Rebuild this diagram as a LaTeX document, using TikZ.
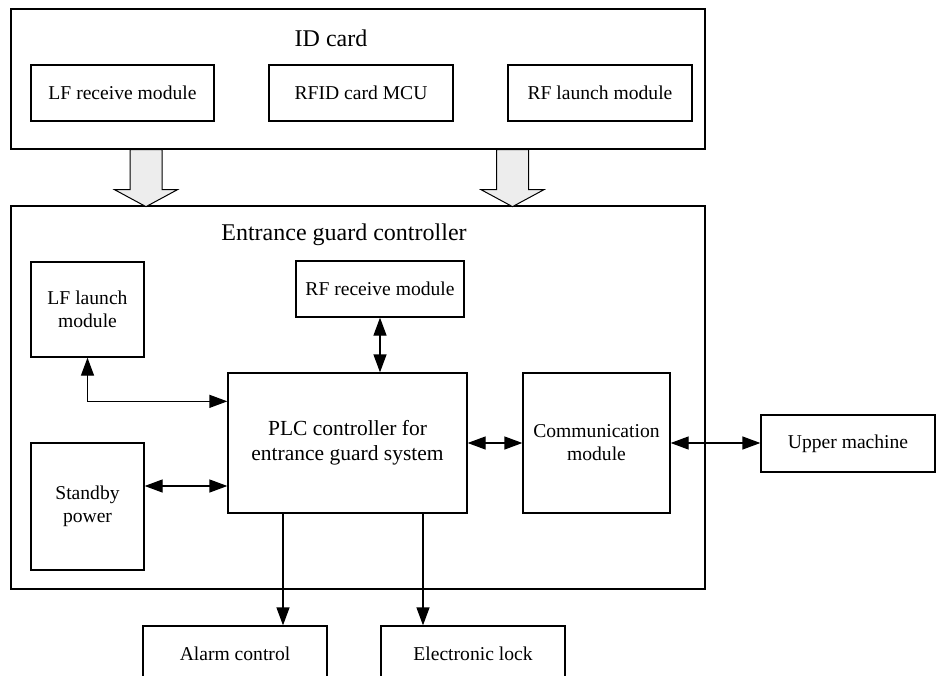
\documentclass[tikz,border=0pt]{standalone}
\usepackage{fontspec}
\setmainfont{Liberation Serif}
\usetikzlibrary{arrows.meta}
\begin{document}
\begin{tikzpicture}[x=1pt,y=-1pt,
  box/.style={draw, line width=1.3pt, inner sep=0pt, align=center,
    font=\fontsize{19.6}{23}\selectfont},
  outer/.style={draw, line width=1.3pt, inner sep=0pt},
  title/.style={font=\fontsize{24}{28}\selectfont, inner sep=0pt},
  tipa/.style={-{Triangle[length=18pt,width=13pt]}, line width=1.3pt},
  tipb/.style={{Triangle[length=18pt,width=13pt]}-{Triangle[length=18pt,width=13pt]}, line width=1.3pt},
  hollow/.style={draw, line width=1pt, fill=black!7}]
\clip (0,0) rectangle (936,676);
\fill[white] (0,0) rectangle (936,676);

% ID card
\node[outer, minimum width=694pt, minimum height=140pt] (idcard) at (358,79) {};
\node[title] (idtitle) at (331,38) {ID card};
\node[box, minimum width=183pt, minimum height=56pt] (lfr) at (122.5,93) {LF receive module};
\node[box, minimum width=184pt, minimum height=56pt] (rfid) at (361,93) {RFID card MCU};
\node[box, minimum width=184pt, minimum height=56pt] (rfl) at (600,93) {RF launch module};

% Controller
\node[outer, minimum width=694pt, minimum height=383pt] (ctrl) at (358,397.5) {};
\node[title] (ctitle) at (344,235) {Entrance guard controller};
\node[box, minimum width=113pt, minimum height=95pt] (lfl) at (87.5,309.5) {LF launch\\module};
\node[box, minimum width=168pt, minimum height=56pt] (rfr) at (380,289) {RF receive module};
\node[box, minimum width=239pt, minimum height=140pt, font=\fontsize{21.5}{25}\selectfont] (plc) at (347.5,443) {PLC controller for\\entrance guard system};
\node[box, minimum width=113pt, minimum height=127pt] (sp) at (87.5,506.5) {Standby\\power};
\node[box, minimum width=147pt, minimum height=140pt] (comm) at (596.5,443) {Communication\\module};
\node[box, minimum width=174pt, minimum height=57pt] (upper) at (848,443.5) {Upper machine};
\node[box, minimum width=184pt, minimum height=56pt] (alarm) at (235,654) {Alarm control};
\node[box, minimum width=184pt, minimum height=56pt] (lock) at (473,654) {Electronic lock};

% hollow arrows from ID card to controller
\coordinate (ha) at ([xshift=-212pt]idcard.south);
\coordinate (hb) at ([xshift=154.5pt]idcard.south);
\foreach \c in {ha,hb}{
  \draw[hollow] (\c) ++(-16,0) -- ++(0,40) -- ++(-15.5,0) -- ++(31.5,17)
    -- ++(31.5,-17) -- ++(-15.5,0) -- ++(0,-40) -- cycle;
}

% connectors
\draw[tipb] (lfl.south) |- ([yshift=-29pt]plc.north west);
\draw[tipb] (rfr.south) -- (rfr.south |- plc.north);
\draw[tipb] ([yshift=20.5pt]sp.east) -- ([yshift=-43pt]plc.west);
\draw[tipb] (plc.east) -- (comm.west);
\draw[tipb] (comm.east) -- (upper.west |- comm.east);
\coordinate (a1) at ([xshift=48pt]alarm.north);
\coordinate (l1) at ([xshift=-50pt]lock.north);
\draw[tipa] (plc.south -| a1) -- (a1);
\draw[tipa] (plc.south -| l1) -- (l1);
\end{tikzpicture}
\end{document}
